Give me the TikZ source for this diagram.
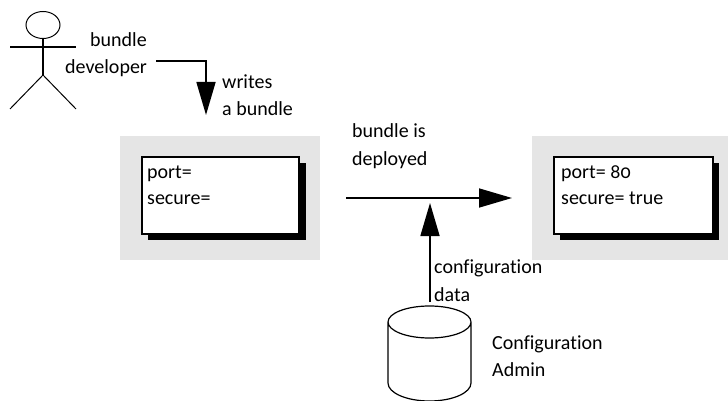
\documentclass[tikz,border=0pt]{standalone}
\usepackage{fontspec}
\setmainfont[Numbers=OldStyle,Ligatures=NoCommon]{Carlito}
\usetikzlibrary{arrows.meta,shapes.geometric}
\definecolor{panelgray}{HTML}{E5E5E5}
\tikzset{
	lbl/.style={inner sep=0pt,anchor=base west,font=\fontsize{20}{27}\selectfont},
	panel/.style={fill=panelgray,inner sep=0pt,minimum width=#1,minimum height=124pt,anchor=north west},
	card/.style={draw=black,line width=1.8pt,fill=white,inner sep=0pt,minimum width=#1,minimum height=77pt,anchor=north west},
	cardshadow/.style={fill=black,inner sep=0pt,minimum width=#1,minimum height=77pt,anchor=north west},
	flow/.style={line width=1.6pt,-{Triangle[length=#1,width=19pt]}},
	flow/.default=33pt
}
\begin{document}
\begin{tikzpicture}[x=1pt,y=-1pt]
		\useasboundingbox (0,0) rectangle (728,401);
		\path 
		(156,61)coordinate (W0)++(50,0)coordinate (W1)++(0,54)coordinate (W2)
		(346,198)coordinate (D0)++(166,0)coordinate (D1)
		(430,302)coordinate (C0)++(0,-99)coordinate (C1)
		(43,47)coordinate (neck)
		(10,47)coordinate (armL)
		(76,47)coordinate (armR)
		(43,75)coordinate (hip)
		(10,109)coordinate (footL)
		(76,109)coordinate (footR)
		;
		% panels
		\node[panel=200pt] (panelA) at (120,136) {};
		\node[panel=196pt] (panelB) at (532,136) {};
		\node[cardshadow=158pt] (shadowA) at (148,163) {};
		\node[cardshadow=159pt] (shadowB) at (560,163) {};
		\node[card=157pt] (cardA) at (141,156) {};
		\node[card=159pt] (cardB) at (553,156) {};
		% person
		\node[draw=black,line width=1pt,ellipse,inner sep=0pt,minimum width=34pt,minimum height=27pt] (head) at (43,25) {};
		\draw[line width=1.6pt] (head.south)--(hip)
		(armL)--(armR);
		\draw[line width=1pt] (footL)--(hip)--(footR);
		% database
		\draw[line width=1.2pt,fill=white] (388,322) arc (180:0:41.5 and 16) arc (0:-180:41.5 and 16)
		(388,322)--(388,383) arc (180:0:41.5 and 18)--(471,322);
		% arrows
		\draw[flow] (W0)--(W1)--(W2);
		\draw[flow] (D0)--(D1);
		\draw[flow] (C0)--(C1);
		% labels
		\node[lbl] (bundleA) at (90,47) {bundle};
		\node[lbl] (devel) at (65,74) {developer};
		\node[lbl] (writes) at (222,89) {writes};
		\node[lbl] (abundle) at (222,116) {a bundle};
		\node[lbl] (portA) at (147,178) {port=};
		\node[lbl] (secA) at (147,204) {secure=};
		\node[lbl] (isdep) at (352,138) {bundle is};
		\node[lbl] (deployed) at (352,165) {deployed};
		\node[lbl] (portB) at (561,178) {port= 80};
		\node[lbl] (secB) at (561,204) {secure= true};
		\node[lbl] (confdata) at (434,273) {configuration};
		\node[lbl] (data) at (434,301) {data};
		\node[lbl] (confadmin) at (492,349) {Configuration};
		\node[lbl] (admin) at (492,376) {Admin};
	\end{tikzpicture}
\end{document}
